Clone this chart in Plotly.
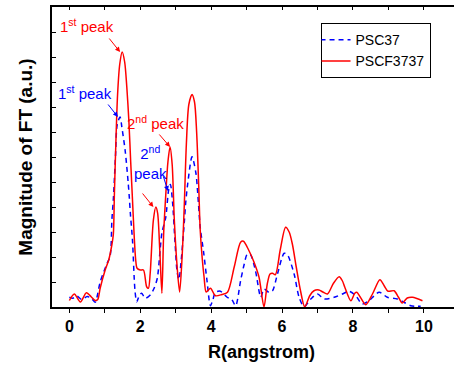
import plotly.graph_objects as go

# ---- data ----
r_red = [0.00, 0.14, 0.31, 0.48, 0.62, 0.73, 0.80, 0.87, 1.01, 1.11, 1.20, 1.24, 1.27,
         1.31, 1.36, 1.42, 1.49, 1.56, 1.62, 1.68, 1.73, 1.78, 1.83, 1.87, 1.91, 2.00,
         2.09, 2.18, 2.23, 2.28, 2.37, 2.44, 2.49, 2.55, 2.61, 2.66, 2.72, 2.78, 2.84,
         2.90, 2.96, 3.03, 3.11, 3.18, 3.24, 3.30, 3.37, 3.46, 3.53, 3.59, 3.65, 3.69,
         3.75, 3.80, 3.86, 3.98, 4.12, 4.30, 4.46, 4.65, 4.83, 4.91, 5.05, 5.21, 5.35,
         5.49, 5.58, 5.66, 5.73, 5.81, 5.95, 6.10, 6.20, 6.29, 6.40, 6.52, 6.64, 6.78,
         6.90, 7.04, 7.15, 7.28, 7.45, 7.61, 7.70, 7.77, 7.94, 8.05, 8.11, 8.20, 8.36,
         8.55, 8.76, 8.88, 8.99, 9.16, 9.28, 9.39, 9.53, 9.68, 9.96]
v_red = [0.26, 0.52, 0.20, 0.57, 0.40, 0.26, 0.30, 0.76, 1.48, 1.88, 2.50, 2.90, 4.50,
         6.50, 8.50, 9.70, 10.20, 9.80, 8.80, 7.40, 5.80, 4.30, 2.80, 1.90, 1.55, 1.48,
         1.48, 0.81, 0.75, 1.35, 3.48, 4.00, 3.75, 2.28, 0.55, 2.95, 4.50, 5.80, 6.40,
         5.70, 3.50, 1.80, 0.60, 2.00, 4.00, 6.50, 8.10, 8.50, 8.20, 7.00, 4.80, 3.10,
         1.90, 1.20, 0.60, 0.75, 0.45, 0.50, 0.59, 1.60, 2.59, 2.63, 2.30, 1.79, 1.19,
         0.00, 0.90, 1.32, 1.35, 1.29, 2.30, 3.19, 3.00, 2.52, 1.60, 0.65, 0.00, 0.45,
         0.65, 0.68, 0.60, 0.52, 0.95, 1.21, 1.05, 0.79, 0.25, 0.55, 0.59, 0.41, 0.09,
         0.52, 1.09, 0.85, 0.63, 0.65, 0.40, 0.16, 0.36, 0.39, 0.25]

r_blue = [0.00, 0.10, 0.20, 0.35, 0.50, 0.62, 0.73, 0.78, 0.87, 1.05, 1.15, 1.20, 1.24,
          1.30, 1.35, 1.43, 1.48, 1.57, 1.62, 1.66, 1.69, 1.72, 1.78, 1.85, 1.90, 1.98,
          2.04, 2.14, 2.28, 2.39, 2.48, 2.56, 2.61, 2.72, 2.80, 2.85, 2.91, 2.98, 3.04,
          3.09, 3.15, 3.24, 3.28, 3.34, 3.46, 3.57, 3.62, 3.66, 3.69, 3.79, 3.88, 3.98,
          4.05, 4.12, 4.26, 4.45, 4.58, 4.69, 4.83, 4.93, 5.02, 5.11, 5.25, 5.40, 5.49,
          5.63, 5.73, 5.87, 6.06, 6.15, 6.34, 6.48, 6.62, 6.81, 7.00, 7.19, 7.47, 7.70,
          7.89, 8.08, 8.26, 8.45, 8.74, 8.97, 9.25, 9.44, 9.63, 9.91]
v_blue = [0.39, 0.35, 0.45, 0.30, 0.42, 0.35, 0.19, 0.40, 1.00, 1.70, 2.05, 3.50, 4.30,
          6.00, 7.30, 7.60, 7.20, 6.30, 5.60, 4.95, 4.40, 3.75, 2.68, 0.68, 0.21, 0.48,
          0.55, 0.35, 0.48, 0.75, 1.15, 2.28, 2.96, 3.60, 4.68, 4.90, 4.20, 2.60, 1.40,
          1.10, 1.80, 3.35, 4.15, 4.95, 6.01, 5.35, 4.55, 3.75, 3.20, 2.16, 1.08, 0.05,
          0.30, 0.59, 0.63, 0.39, 0.30, 0.05, 1.05, 1.70, 2.12, 2.09, 1.45, 0.39, 0.72,
          0.59, 0.65, 1.32, 2.15, 2.09, 1.32, 0.39, 0.01, 0.32, 0.52, 0.32, 0.39, 0.52,
          0.63, 0.45, 0.12, 0.25, 0.59, 0.39, 0.32, 0.19, 0.05, 0.03]

series_names = ["PSC37", "PSCF3737"]
x_tick_vals = [0, 1, 2, 3, 4, 5, 6, 7, 8, 9, 10]
x_tick_text = ["0", "", "2", "", "4", "", "6", "", "8", "", "10"]
y_tick_vals = list(range(0, 13))

FONT = "Arial, Liberation Sans, sans-serif"

fig = go.Figure()
fig.add_trace(go.Scatter(x=r_blue, y=v_blue, name=series_names[0], mode="lines",
                         line=dict(color="#0000FF", width=1.5, dash="5px,4px",
                                   shape="spline", smoothing=0.8)))
fig.add_trace(go.Scatter(x=r_red, y=v_red, name=series_names[1], mode="lines",
                         line=dict(color="#FF0000", width=1.5,
                                   shape="spline", smoothing=0.8)))
# dummy trace to create the top (mirror) axis with inward ticks
fig.add_trace(go.Scatter(x=[None], y=[None], xaxis="x2", showlegend=False,
                         hoverinfo="skip"))

xr = [-0.49, 10.85]
fig.update_layout(
    width=454, height=368,
    margin=dict(l=52, r=0, t=7, b=61),
    paper_bgcolor="white", plot_bgcolor="white",
    font=dict(family=FONT, color="black"),
    showlegend=True,
    legend=dict(x=0.668, y=0.946, xanchor="left", yanchor="top",
                bordercolor="black", borderwidth=1, bgcolor="white",
                font=dict(size=14, family=FONT), tracegroupgap=0,
                itemwidth=30, indentation=-6),
    xaxis=dict(range=xr, showline=True, linecolor="black", linewidth=1.5,
               ticks="outside", ticklen=4, tickwidth=1, tickcolor="black",
               tickvals=x_tick_vals, ticktext=x_tick_text,
               tickfont=dict(size=16, family=FONT, weight="bold"),
               showgrid=False, zeroline=False),
    xaxis2=dict(range=xr, overlaying="x", side="top", anchor="y",
                showline=True, linecolor="black", linewidth=1.5,
                ticks="inside", ticklen=3, tickwidth=1, tickcolor="black",
                tickvals=x_tick_vals, showticklabels=False,
                showgrid=False, zeroline=False),
    yaxis=dict(range=[0, 12], showline=True, linecolor="black", linewidth=1.5,
               ticks="inside", ticklen=4, tickwidth=1, tickcolor="black",
               tickvals=y_tick_vals, showticklabels=False,
               showgrid=False, zeroline=False,
               title=dict(text="Magnitude of FT (a.u.)", standoff=13,
                          font=dict(size=19, family=FONT, weight="bold"))),
)

# x-axis title
fig.add_annotation(text="<b>R(angstrom)</b>", xref="paper", yref="paper",
                   x=0.52, y=-0.15, xanchor="center", yanchor="middle",
                   showarrow=False, font=dict(size=18, family=FONT))

RED, BLUE = "#FF0000", "#0000FF"
# text labels
labels = [
    ("1<sup>st</sup> peak", 0.50, 11.28, RED),
    ("1<sup>st</sup> peak", 0.44, 8.60, BLUE),
    ("2<sup>nd</sup> peak", 2.42, 7.40, RED),
    ("2<sup>nd</sup><br>peak", 2.28, 5.80, BLUE),
]
for txt, x, y, c in labels:
    fig.add_annotation(text=txt, x=x, y=y, showarrow=False,
                       font=dict(size=15, color=c, family=FONT),
                       xanchor="center", yanchor="middle")

# arrows (tip in data coords, tail offset in px)
arrows = [
    (1.43, 10.2, -12, -15, RED),
    (1.37, 7.6, -11, -14, BLUE),
    (2.84, 6.4, -12, -14, RED),
    (2.78, 4.64, -5, -16, BLUE),
    (2.37, 4.0, -12, -15, RED),
]
for x, y, ax, ay, c in arrows:
    fig.add_annotation(text="", x=x, y=y, ax=ax, ay=ay, showarrow=True,
                       arrowhead=2, arrowsize=1, arrowwidth=1, arrowcolor=c)

fig.write_html("out.html")
